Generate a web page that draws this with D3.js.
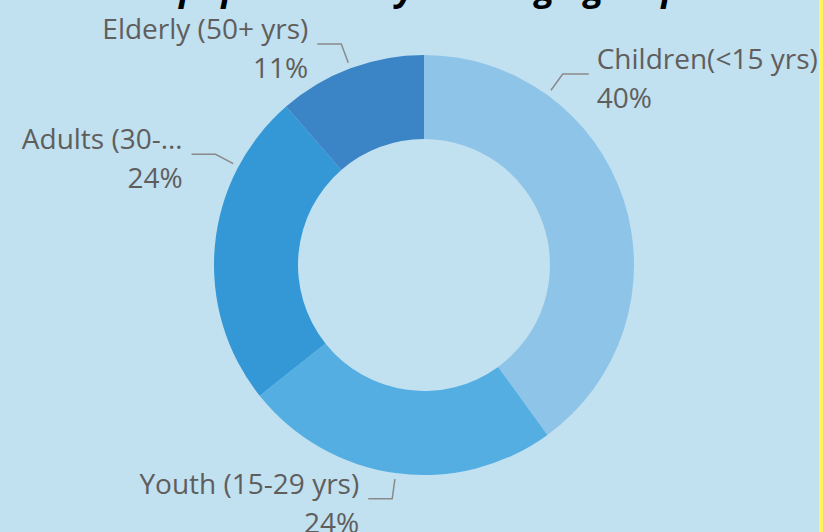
<!DOCTYPE html>
<html>
<head>
<meta charset="utf-8">
<script src="https://cdn.jsdelivr.net/npm/d3@7"></script>
<style>
  html, body { margin: 0; padding: 0; background: #c1e0f0; overflow: hidden; }
  #chart { width: 823px; height: 532px; }
</style>
</head>
<body>
<div id="chart"></div>
<script>
const categories = ["Children(<15 yrs)", "Youth (15-29 yrs)", "Adults (30-49 yrs)", "Elderly (50+ yrs)"];
const shares = [40.0, 24.3, 24.3, 11.4];
const colors = ["#8ec4e8", "#54aee2", "#3398d5", "#3b84c6"];
// where along each slice the label leader is attached (0 = start, 1 = end)
const labelAt = [0.25, 0.5, 0.76, 0.5];

const width = 823, height = 532;
const cx = 424, cy = 265;
const outerR = 210, innerR = 126;

const svg = d3.select("#chart")
    .append("svg")
    .attr("width", width)
    .attr("height", height)
    .style("font-family", "'Open Sans', 'Noto Sans', sans-serif");

svg.append("rect")
    .attr("width", width)
    .attr("height", height)
    .attr("fill", "#c1e0f0");

// yellow edge on the right
svg.append("rect")
    .attr("x", 819)
    .attr("width", 4)
    .attr("height", height)
    .attr("fill", "#fff35a");

// title, mostly cut off by the top edge
svg.append("text")
    .attr("x", 411)
    .attr("y", 0)
    .attr("text-anchor", "middle")
    .attr("font-size", 36)
    .attr("font-weight", "bold")
    .attr("font-style", "italic")
    .attr("fill", "#000")
    .text("% population by each age group");

const data = categories.map((c, i) => ({name: c, value: shares[i], color: colors[i], at: labelAt[i]}));
const total = d3.sum(shares);

const pie = d3.pie().value(d => d.value).sort(null);
const arc = d3.arc().innerRadius(innerR).outerRadius(outerR);

const g = svg.append("g").attr("transform", `translate(${cx},${cy})`);

const arcs = pie(data);

g.selectAll("path")
    .data(arcs)
    .enter()
    .append("path")
    .attr("d", arc)
    .attr("fill", d => d.data.color);

// labels with leader lines
const labelFont = 28;
const measure = svg.append("text").attr("font-size", labelFont).attr("visibility", "hidden");
function fit(text, maxW) {
    measure.text(text);
    if (measure.node().getComputedTextLength() <= maxW) return text;
    let s = text;
    while (s.length > 1) {
        s = s.slice(0, -1);
        measure.text(s + "…");
        if (measure.node().getComputedTextLength() <= maxW) return s + "…";
    }
    return s;
}

arcs.forEach(d => {
    const a = d.startAngle + (d.endAngle - d.startAngle) * d.data.at;
    const sx = Math.sin(a), sy = -Math.cos(a);
    const p0 = [cx + sx * (outerR + 6), cy + sy * (outerR + 6)];
    const p1 = [cx + sx * (outerR + 26), cy + sy * (outerR + 26)];
    const right = sx >= 0;
    const p2 = [p1[0] + (right ? 26 : -24), p1[1]];

    svg.append("polyline")
        .attr("points", [p0, p1, p2].map(p => p.join(",")).join(" "))
        .attr("fill", "none")
        .attr("stroke", "#8a8a8a")
        .attr("stroke-width", 1.5);

    const tx = p2[0] + (right ? 8 : -9);
    const maxW = right ? width - 2 - tx : tx - 14;
    const anchor = right ? "start" : "end";

    svg.append("text")
        .attr("x", tx)
        .attr("y", p1[1] - 5)
        .attr("text-anchor", anchor)
        .attr("font-size", labelFont)
        .attr("fill", "#605e5c")
        .text(fit(d.data.name, maxW));

    svg.append("text")
        .attr("x", tx)
        .attr("y", p1[1] + 34)
        .attr("text-anchor", anchor)
        .attr("font-size", labelFont)
        .attr("fill", "#605e5c")
        .text(d3.format(".0f")(d.data.value / total * 100) + "%");
});
measure.remove();
</script>
</body>
</html>
